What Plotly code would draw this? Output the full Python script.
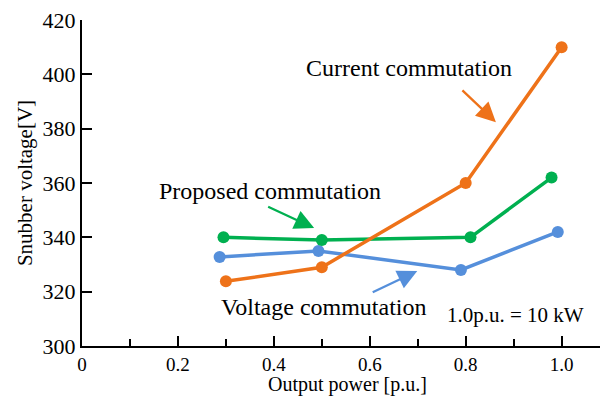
import plotly.graph_objects as go

current_x = [0.30, 0.50, 0.80, 1.00]
current_y = [323.8, 329.0, 360.0, 410.0]
proposed_x = [0.295, 0.50, 0.81, 0.979]
proposed_y = [340.0, 339.0, 340.0, 362.0]
voltage_x = [0.287, 0.493, 0.79, 0.992]
voltage_y = [332.8, 335.0, 328.0, 342.0]

x_tickvals = [0, 0.2, 0.4, 0.6, 0.8, 1.0]
x_ticktext = ["0", "0.2", "0.4", "0.6", "0.8", "1.0"]
y_tickvals = [300, 320, 340, 360, 380, 400, 420]

ORANGE = "#EE7219"
GREEN = "#00B050"
BLUE = "#558FDB"
FONT = "Liberation Serif"

fig = go.Figure()
for xs, ys, col in [(voltage_x, voltage_y, BLUE), (proposed_x, proposed_y, GREEN), (current_x, current_y, ORANGE)]:
    fig.add_trace(go.Scatter(x=xs, y=ys, mode="lines+markers",
                             line=dict(color=col, width=3.5),
                             marker=dict(color=col, size=12),
                             showlegend=False, cliponaxis=False))

def arrow(tx, ty, hx, hy, col):
    fig.add_annotation(x=hx, y=hy, ax=tx, ay=ty, xref="x", yref="y", axref="x", ayref="y",
                       showarrow=True, arrowhead=2, arrowsize=1.7, arrowwidth=2.3,
                       arrowcolor=col, text="")

arrow(0.79, 394.6, 0.863, 382.4, ORANGE)
arrow(0.385, 351.5, 0.484, 343.4, GREEN)
arrow(0.603, 319.5, 0.699, 327.6, BLUE)

def label(x, y, t, size=24):
    fig.add_annotation(x=x, y=y, xref="x", yref="y", text=t, showarrow=False,
                       font=dict(family=FONT, size=size, color="black"))

label(0.682, 402.3, "Current commutation")
label(0.391, 357.0, "Proposed commutation")
label(0.505, 314.4, "Voltage commutation")
label(0.904, 311.4, "1.0p.u. = 10 kW", size=21)

# x-axis title
fig.add_annotation(x=0.5135, y=-0.119, xref="paper", yref="paper", text="Output power [p.u.]",
                   showarrow=False, yanchor="middle", borderpad=0,
                   font=dict(family=FONT, size=20, color="black"))

fig.update_layout(
    width=602, height=396,
    margin=dict(l=82, r=2, t=20, b=50),
    plot_bgcolor="white", paper_bgcolor="white",
    font=dict(family=FONT, size=22, color="black"),
    xaxis=dict(range=[0, 1.08], tickvals=x_tickvals, ticktext=x_ticktext, automargin=False,
               ticks="inside", ticklen=10, tickwidth=2, tickcolor="black",
               showline=True, linewidth=2, linecolor="black", showgrid=False, zeroline=False,
               minor=dict(tickvals=[0.1, 0.3, 0.5, 0.7, 0.9], ticks="inside", ticklen=7,
                          tickwidth=2, tickcolor="black", showgrid=False),
               tickfont=dict(size=19)),
    yaxis=dict(range=[300, 420], tickvals=y_tickvals, automargin=False,
               ticks="inside", ticklen=10, tickwidth=2, tickcolor="black",
               showline=True, linewidth=2, linecolor="black", showgrid=False, zeroline=False,
               title=dict(text="Snubber voltage[V]", font=dict(size=21), standoff=4),
               tickfont=dict(size=22)),
)

fig.write_html("out.html", config={"displayModeBar": False},
               post_script="document.body.style.margin='0';document.body.style.overflow='hidden';")
